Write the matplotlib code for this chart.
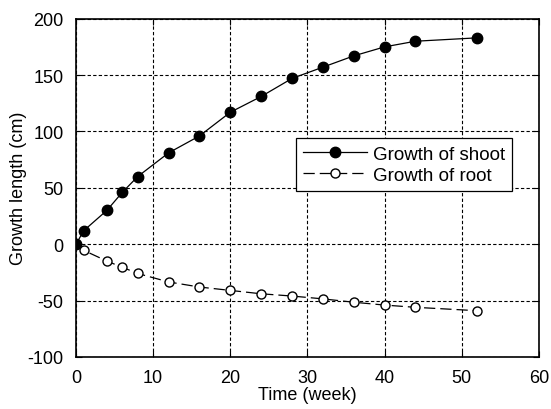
import numpy as np
import matplotlib.pyplot as plt

plt.rcParams['font.family'] = ['Liberation Sans', 'DejaVu Sans']
plt.rcParams['axes.unicode_minus'] = False

# semanas y crecimiento (cm)
semanas = [0, 1, 4, 6, 8, 12, 16, 20, 24, 28, 32, 36, 40, 44, 52]
brote = [0, 12, 30, 46, 60, 81, 96, 117, 131, 147, 157, 167, 175, 180, 183]
raiz = [0, -5.5, -15, -20.5, -26, -33.5, -38, -41, -44, -46, -48.5, -51.5, -54, -56, -59]

fig = plt.figure(figsize=(5.51, 4.10), dpi=100)
ax = fig.add_axes([0.138, 0.127, 0.84, 0.825])

ax.plot(semanas, brote, 'k-', marker='o', markersize=7.5, markerfacecolor='black',
        linewidth=0.9, label='Growth of shoot', zorder=4)
ax.plot(semanas, raiz, 'k', marker='o', markersize=6.5, markerfacecolor='white',
        linewidth=0.9, dashes=(9, 4), label='Growth of root', zorder=3)

ax.set_xlim(0, 60)
ax.set_ylim(-100, 200)
ax.set_xticks(np.arange(0, 61, 10))
ax.set_yticks(np.arange(-100, 201, 50))
ax.grid(True, color='black', linestyle=(0, (3, 2)), linewidth=0.8)
ax.tick_params(direction='in', labelsize=13, right=True, top=True, length=4, pad=9)
for s in ax.spines.values():
    s.set_linewidth(1.2)

ax.set_xlabel('Time (week)', fontsize=13, labelpad=0)
ax.set_ylabel('Growth length (cm)', fontsize=13, labelpad=0)

leg = ax.legend(loc='lower left', bbox_to_anchor=(0.475, 0.49), fontsize=13.5,
                fancybox=False, edgecolor='black', framealpha=1, borderaxespad=0,
                borderpad=0.4, labelspacing=0.2, handlelength=3.4, handletextpad=0.3)
leg.get_frame().set_linewidth(0.9)

plt.savefig('out.png', dpi=100)
